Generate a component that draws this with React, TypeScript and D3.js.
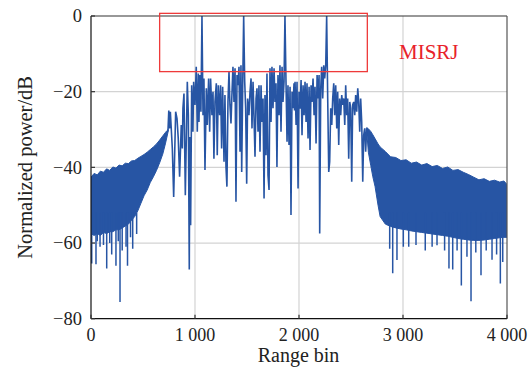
import React from "react";
import * as d3 from "d3";

// ---------- data (dB values) ----------
const xTicks = [0, 1000, 2000, 3000, 4000];
const xTickLabels = ["0", "1 000", "2 000", "3 000", "4 000"];
const yTicks = [0, -20, -40, -60, -80];
const yTickLabels = ["0", "\u221220", "\u221240", "\u221260", "\u221280"];

// left dense noise band (range bins 0 … 742)
const leftX = [0, 30, 60, 90, 120, 150, 180, 210, 240, 270, 300, 330, 360, 390, 420, 450, 480, 510, 540, 570, 600, 630, 660, 690, 715, 730, 742];
const leftTop = [-42.6, -41.6, -42.0, -41.0, -41.3, -40.4, -40.8, -39.9, -40.2, -39.4, -39.6, -38.9, -39.0, -38.3, -38.2, -37.6, -37.1, -36.6, -36.0, -35.3, -34.6, -33.8, -32.8, -31.7, -30.8, -30.3, -30.0];
const leftBottom = [-57.5, -58, -57.5, -58, -57.2, -57.5, -57, -57, -56.5, -56.5, -56, -55.5, -55, -54, -53, -51.5, -49.5, -47.5, -46, -44, -42.5, -40.8, -38.8, -36.5, -33.8, -32, -30.5];
const spikeLX = [7, 48, 60, 87, 120, 151, 180, 199, 240, 262, 279, 300, 337, 351, 380, 401, 439];
const spikeLY = [-65.4, -65.6, -59.5, -61, -60.5, -66.7, -60, -63, -66, -59.5, -75.6, -62, -61, -66, -58.5, -61.5, -57.6];

// middle (jammed) region line
const midX = [740, 748, 755, 763, 782, 795, 814, 827, 839, 852, 868, 878, 884, 894, 907, 926, 936, 945, 950, 958, 968, 980, 987, 1000, 1012, 1022, 1032, 1038, 1048, 1057, 1067, 1077, 1086, 1096, 1109, 1118, 1131, 1141, 1150, 1163, 1173, 1182, 1192, 1205, 1214, 1224, 1237, 1246, 1256, 1266, 1279, 1288, 1298, 1307, 1317, 1327, 1336, 1346, 1356, 1365, 1375, 1385, 1394, 1404, 1414, 1423, 1433, 1442, 1449, 1458, 1468, 1478, 1487, 1497, 1506, 1519, 1529, 1539, 1548, 1558, 1567, 1577, 1587, 1596, 1606, 1615, 1625, 1635, 1644, 1654, 1664, 1673, 1683, 1692, 1702, 1712, 1721, 1731, 1740, 1750, 1760, 1769, 1779, 1788, 1798, 1808, 1817, 1827, 1837, 1846, 1856, 1865, 1875, 1885, 1894, 1904, 1914, 1923, 1933, 1942, 1952, 1957, 1962, 1972, 1981, 1991, 2000, 2010, 2020, 2029, 2039, 2049, 2058, 2068, 2077, 2087, 2097, 2106, 2116, 2125, 2135, 2145, 2154, 2164, 2174, 2183, 2193, 2199, 2209, 2218, 2228, 2238, 2247, 2257, 2266, 2276, 2286, 2295, 2305, 2315, 2324, 2334, 2343, 2353, 2363, 2372, 2382, 2391, 2401, 2411, 2420, 2430, 2440, 2449, 2459, 2468, 2478, 2488, 2497, 2507, 2516, 2526, 2536, 2545, 2555, 2565, 2574, 2584, 2593, 2603, 2613, 2622, 2632, 2641, 2651];
const midY = [-30.5, -25.0, -29.7, -25.3, -35.0, -47.8, -25.3, -27.1, -32.4, -42.5, -28.8, -35.0, -24.4, -20.5, -47.4, -17.4, -26.2, -67.0, -32.0, -55.3, -18.3, -30.6, -17.4, -23.5, -13.4, -30.6, -15.2, -28.0, -15.6, -25.3, 0, -26.2, -16.5, -40.7, -19.1, -28.8, -16.5, -30.6, -16.5, -26.2, -20.0, -37.7, -22.7, -17.8, -36.8, -18.3, -26.2, -18.3, -35.0, -18.7, -38.5, -20.9, -39.9, -45.1, -22.7, -14.7, -23.5, -28.4, -20.0, -13.4, -22.7, -13.8, -49.1, -15.6, -18.3, -13.4, -35.9, -13.0, -41.2, -20.0, 0, -17.4, -24.4, -44.3, -21.8, -26.2, -20.0, -16.5, -29.7, -17.4, -26.2, -37.2, -21.8, -19.1, -30.6, -18.3, -35.9, -18.3, -28.0, -21.8, -48.2, -20.9, -36.8, -15.2, -42.1, -46.0, -13.8, -28.0, -13.4, -24.4, -13.8, -22.7, -17.8, -39.9, -15.6, -26.2, -13.0, -30.6, -13.4, -22.7, -17.4, 0, -17.4, -33.2, -18.3, -34.1, -18.7, -52.6, -20.0, -24.4, -17.8, -25.0, -17.4, -28.8, -17.4, -45.6, -20.0, -24.5, -16.9, -31.5, -18.3, -26.2, -17.4, -28.0, -17.8, -32.4, -18.7, -35.4, -18.3, -22.7, -16.5, -26.2, -18.7, -33.7, -15.6, -21.8, -15.6, -57.5, -19.1, -13.4, -21.8, -13.0, -16.5, -13.0, 0, -21.8, -41.2, -38.5, -24.4, -28.8, -21.8, -17.8, -26.2, -18.3, -29.7, -20.0, -34.1, -21.8, -26.2, -20.9, -23.5, -21.8, -28.8, -18.3, -26.2, -21.8, -37.7, -22.7, -24.4, -43.8, -23.5, -22.7, -26.2, -20.9, -25.3, -19.1, -22.7, -30.6, -21.8, -28.0, -43.8, -31.5, -29.7, -35.9, -29.7];

// right dense noise band (range bins 2651 … 4000)
const rightX = [2651, 2667, 2690, 2710, 2731, 2760, 2780, 2830, 2880, 2930, 2980, 3030, 3080, 3130, 3180, 3230, 3280, 3330, 3380, 3430, 3480, 3530, 3580, 3630, 3680, 3730, 3780, 3830, 3880, 3930, 3970, 4000];
const rightTop = [-29.5, -29.8, -30.5, -31.4, -32.4, -33.8, -34.6, -35.8, -37.2, -37.4, -38.2, -38.0, -38.9, -38.6, -39.4, -39.0, -39.8, -39.5, -40.3, -39.9, -40.8, -40.6, -41.3, -41.9, -42.6, -43.3, -43.0, -43.7, -43.4, -43.9, -43.6, -44.5];
const rightBottom = [-30.5, -36, -39.5, -42.5, -45, -50, -53, -55, -55.6, -56, -56.3, -56.5, -56.8, -57, -57.2, -57.4, -57.6, -57.8, -58, -58.2, -58.5, -58.8, -59, -59.2, -59.3, -59.3, -59.2, -59, -58.8, -58.6, -58.5, -58.5];
const spikeRX = [2872, 2901, 2942, 3003, 3055, 3125, 3214, 3280, 3327, 3400, 3442, 3478, 3520, 3561, 3615, 3654, 3700, 3750, 3800, 3856, 3900, 3936, 3959];
const spikeRY = [-61.5, -68, -64.5, -61, -61, -60.5, -62, -61, -60.6, -62, -66.7, -67, -62, -71.2, -63.6, -75.4, -62.5, -68.5, -62, -64.4, -63, -70.7, -65];

// annotation box (data units) and label
const boxX = [660, 2657];
const boxY = [0.7, -14.7];
const annotation = "MISRJ";

// ---------- layout ----------
const W = 532, H = 370;
const L = 91, R = 507, T = 16, B = 318.7;
const BLUE = "#2755a4";
const FONT = "'Liberation Serif', 'Times New Roman', serif";

export default function App() {
  const x = d3.scaleLinear().domain([0, 4000]).range([L, R]);
  const y = d3.scaleLinear().domain([-80, 0]).range([B, T]);

  const band = (xs: number[], top: number[], bot: number[]) =>
    d3.area<number>()
      .x((_, i) => x(xs[i]))
      .y0((_, i) => y(bot[i]))
      .y1((_, i) => y(top[i]))(xs.map((_, i) => i)) || "";

  const midLine = d3.line<number>()
    .x((_, i) => x(midX[i]))
    .y((_, i) => y(midY[i]))(midX.map((_, i) => i)) || "";

  const spikeBase = -52;

  return (
    <svg width={W} height={H} style={{ position: "fixed", left: 0, top: 0, background: "#fff" }}>
      <defs>
        <clipPath id="plot">
          <rect x={L} y={T - 0.5} width={R - L} height={B - T + 0.5} />
        </clipPath>
      </defs>
      <rect x={0} y={0} width={W} height={H} fill="#fff" />
      {/* grid */}
      {xTicks.slice(1, -1).map((t) => (
        <line key={"gx" + t} x1={x(t)} x2={x(t)} y1={T} y2={B} stroke="#d3d3d3" strokeWidth={1.2} />
      ))}
      {yTicks.slice(1, -1).map((t) => (
        <line key={"gy" + t} x1={L} x2={R} y1={y(t)} y2={y(t)} stroke="#d3d3d3" strokeWidth={1.2} />
      ))}
      {/* data */}
      <g clipPath="url(#plot)">
        <path d={band(leftX, leftTop, leftBottom)} fill={BLUE} stroke={BLUE} strokeWidth={1} />
        <path d={band(rightX, rightTop, rightBottom)} fill={BLUE} stroke={BLUE} strokeWidth={1} />
        {spikeLX.map((v, i) => (
          <line key={"sl" + i} x1={x(v)} x2={x(v)} y1={y(spikeBase)} y2={y(spikeLY[i])} stroke={BLUE} strokeWidth={1.5} />
        ))}
        {spikeRX.map((v, i) => (
          <line key={"sr" + i} x1={x(v)} x2={x(v)} y1={y(spikeBase)} y2={y(spikeRY[i])} stroke={BLUE} strokeWidth={1.5} />
        ))}
        <path d={midLine} fill="none" stroke={BLUE} strokeWidth={1.6} strokeLinejoin="miter" strokeMiterlimit={2} />
      </g>
      {/* frame */}
      <line x1={L} x2={R} y1={T} y2={T} stroke="#333" strokeWidth={1.2} />
      <line x1={R} x2={R} y1={T} y2={B} stroke="#555" strokeWidth={1.2} />
      <line x1={L} x2={L} y1={T} y2={B} stroke="#111" strokeWidth={1.2} />
      <line x1={L} x2={R} y1={B} y2={B} stroke="#111" strokeWidth={1.2} />
      {xTicks.map((t) => (
        <line key={"tx" + t} x1={x(t)} x2={x(t)} y1={B} y2={B - 4} stroke="#333" strokeWidth={1.2} />
      ))}
      {yTicks.map((t) => (
        <line key={"ty" + t} x1={L} x2={L + 4} y1={y(t)} y2={y(t)} stroke="#333" strokeWidth={1.2} />
      ))}
      {/* tick labels */}
      {xTicks.map((t, i) => (
        <text key={"lx" + t} x={x(t)} y={341} textAnchor="middle" fontFamily={FONT} fontSize={18} fill="#222">
          {xTickLabels[i]}
        </text>
      ))}
      {yTicks.map((t, i) => (
        <text key={"ly" + t} x={82} y={y(t) + 6.2} textAnchor="end" fontFamily={FONT} fontSize={18.5} fill="#222">
          {yTickLabels[i]}
        </text>
      ))}
      {/* titles */}
      <text x={298.5} y={362} textAnchor="middle" fontFamily={FONT} fontSize={20} fill="#222">Range bin</text>
      <text transform={`translate(31.5,${(T + B) / 2}) rotate(-90)`} textAnchor="middle" fontFamily={FONT} fontSize={20.5} fill="#222">
        Normalized power/dB
      </text>
      {/* annotation */}
      <rect x={x(boxX[0])} y={y(boxY[0])} width={x(boxX[1]) - x(boxX[0])} height={y(boxY[1]) - y(boxY[0])}
        fill="none" stroke="#ee3a3a" strokeWidth={1.3} />
      <text x={399} y={59.3} fontFamily={FONT} fontSize={21} fill="#e8222a">{annotation}</text>
    </svg>
  );
}
